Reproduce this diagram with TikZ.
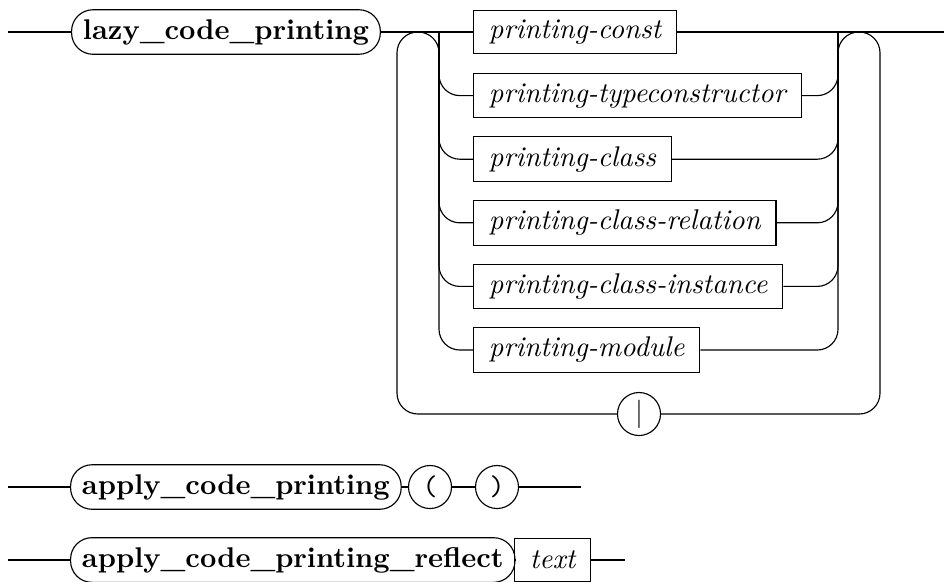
\documentclass[tikz,border=0pt]{standalone}
\usetikzlibrary{positioning}
\begin{document}
\begin{tikzpicture}[x=0.351pt, y=-0.351pt, line width=0.4pt,
  kw/.style={draw, rounded corners=7.5pt, minimum height=15.1pt, inner xsep=4pt, font=\bfseries},
  nt/.style={draw, minimum height=15.1pt, inner xsep=5.4pt, font=\itshape},
  sym/.style={draw, circle, minimum size=15.1pt, inner sep=0pt},
  rr/.style={rounded corners=7.3pt}]
\useasboundingbox (0,0) rectangle (944,581);

% lazy_code_printing
\coordinate (a0) at (8,32);
\coordinate (a1) at (944,32);
\node[kw, anchor=west] (lazy) at (71,32) {lazy\_code\_printing};
\node[nt, anchor=west] (pconst) at (473,32) {printing-const};
\node[nt, anchor=west] (ptype) at (473,95.6) {printing-typeconstructor};
\node[nt, anchor=west] (pclass) at (473,159.2) {printing-class};
\node[nt, anchor=west] (prel) at (473,222.8) {printing-class-relation};
\node[nt, anchor=west] (pinst) at (473,286.4) {printing-class-instance};
\node[nt, anchor=west] (pmod) at (473,350) {printing-module};
\node[sym] (bar) at (639,414) {\textbar};

\draw (a0) -- (lazy) -- (pconst) -- (a1);
% 左边
\draw[rr] (bar.west) -- (397,414) -- (397,32) -- (439,32) |- (pmod.west);
\foreach \n in {ptype,pclass,prel,pinst}
  \draw[rr] (439,32) |- (\n.west);
% 右边
\draw[rr] (pmod.east) -| (838,32) -- (880,32) |- (bar.east);
\foreach \n in {ptype,pclass,prel,pinst}
  \draw[rr] (\n.east) -| (838,32);

% apply_code_printing
\coordinate (b0) at (8,487);
\coordinate (b1) at (581,487);
\node[kw, anchor=west] (apply) at (70,487) {apply\_code\_printing};
\node[sym] (lp) at (430,487) {\texttt{(}};
\node[sym] (rp) at (497,487) {\texttt{)}};
\draw (b0) -- (apply) -- (lp) -- (rp) -- (b1);

% apply_code_printing_reflect
\coordinate (c0) at (8,560);
\coordinate (c1) at (625,560);
\node[kw, anchor=west] (reflect) at (70,560) {apply\_code\_printing\_reflect};
\node[nt, anchor=west] (ptext) at (514,560) {text};
\draw (c0) -- (reflect) -- (ptext) -- (c1);
\end{tikzpicture}
\end{document}
